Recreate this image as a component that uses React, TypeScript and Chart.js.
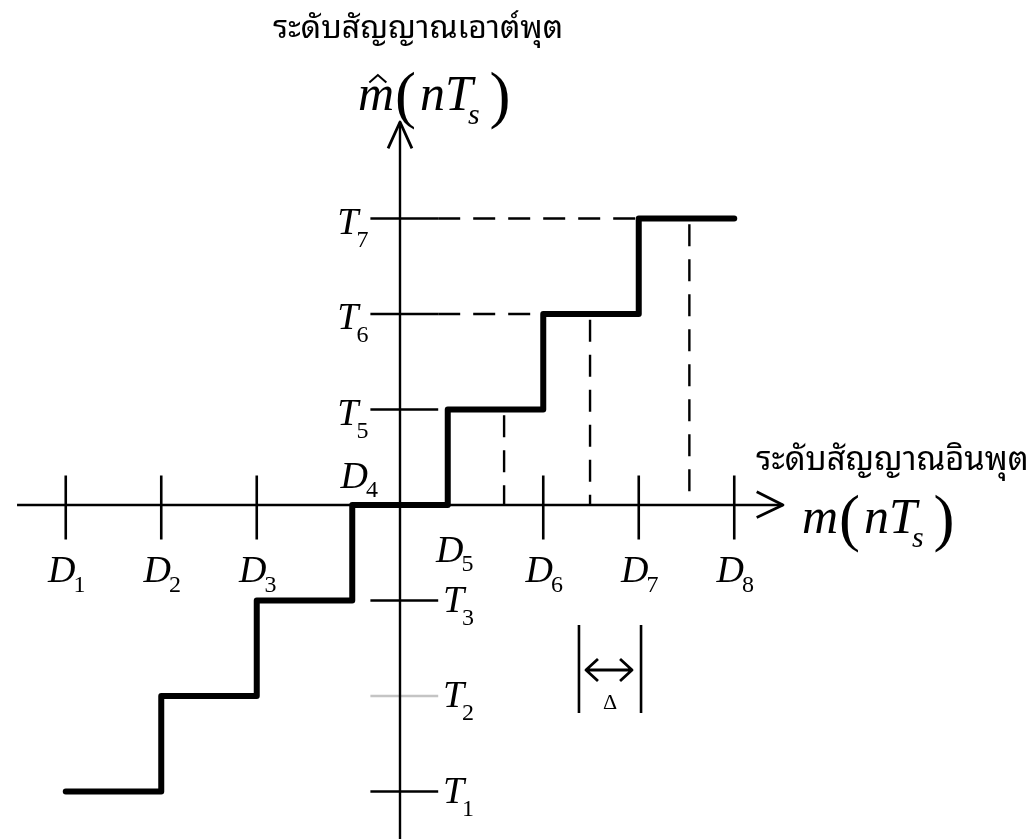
import React, { useEffect, useRef } from "react";
import { Chart, registerables } from "chart.js";

Chart.register(...registerables);

// Decision levels D1..D8 on the input axis (in units of the step size Δ)
const decisionNames = ["1", "2", "3", "4", "5", "6", "7", "8"];
const decisionLevels = [-3.5, -2.5, -1.5, -0.5, 0.5, 1.5, 2.5, 3.5];
// Decision levels that carry a tick mark on the input axis
const tickedDecisions = [0, 1, 2, 5, 6, 7];

// Output (reconstruction) levels T1..T7; the zero level has no label
const outputNames = ["1", "2", "3", "", "5", "6", "7"];
const outputLevels = [-3, -2, -1, 0, 1, 2, 3];
// Output levels that carry a tick mark on the output axis (T2 is drawn faded)
const tickedOutputs = [0, 1, 2, 4, 5, 6];
const fadedOutputs = [1];

// Input samples projected down from the upper steps (dashed guides)
const sampleInputs = [1.09, 1.99, 3.03];
const sampleOutputs = [1, 2, 3];
// Output levels projected across from the output axis (dashed guides)
const projectedOutputs = [5, 6];

// Extent of the drawn axes
const inputAxisRange = [-4.01, 4.01];
const outputAxisRange = [-3.6, 4.01];

// Page geometry
const W = 1033;
const H = 839;
const UNIT = 95.5;
const ORIGIN_X = 400;
const ORIGIN_Y = 505;

const SERIF = '"Liberation Serif", "Times New Roman", serif';
const THAI = '"Noto Sans Thai Looped", "Noto Sans Thai", "Noto Sans", "DejaVu Sans", sans-serif';

type Pt = { x: number; y: number };

function seg(points: Pt[], width: number, color = "#000", dash: number[] = []) {
  return {
    data: points,
    showLine: true,
    borderColor: color,
    borderWidth: width,
    borderDash: dash,
    borderCapStyle: "butt" as const,
    borderJoinStyle: "miter" as const,
    pointRadius: 0,
    fill: false,
    tension: 0,
    clip: false as const,
  };
}

function buildDatasets() {
  const sets: any[] = [];

  // quantizer staircase
  const stairs: Pt[] = [];
  outputLevels.forEach((t, i) => {
    stairs.push({ x: decisionLevels[i], y: t });
    stairs.push({ x: decisionLevels[i + 1], y: t });
  });
  const stairSet = seg(stairs, 6);
  stairSet.borderCapStyle = "round" as any;
  stairSet.borderJoinStyle = "round" as any;
  sets.push(stairSet);

  // axes
  sets.push(seg([{ x: inputAxisRange[0], y: 0 }, { x: inputAxisRange[1], y: 0 }], 2.4));
  sets.push(seg([{ x: 0, y: outputAxisRange[0] }, { x: 0, y: outputAxisRange[1] }], 2.4));

  // arrow heads
  const hx = inputAxisRange[1];
  const hxSet = seg([{ x: hx - 0.275, y: 0.14 }, { x: hx, y: 0 }, { x: hx - 0.275, y: -0.13 }], 2.8);
  hxSet.borderJoinStyle = "round" as any;
  sets.push(hxSet);
  const hy = outputAxisRange[1];
  const hySet = seg([{ x: -0.125, y: hy - 0.275 }, { x: 0, y: hy }, { x: 0.125, y: hy - 0.275 }], 2.8);
  hySet.borderJoinStyle = "round" as any;
  sets.push(hySet);

  // input-axis ticks
  tickedDecisions.forEach((i) => {
    const d = decisionLevels[i];
    sets.push(seg([{ x: d, y: 0.31 }, { x: d, y: -0.36 }], 2.6));
  });

  // output-axis ticks
  tickedOutputs.forEach((i) => {
    const t = outputLevels[i];
    const color = fadedOutputs.includes(i) ? "#c4c4c4" : "#000";
    sets.push(seg([{ x: -0.31, y: t }, { x: 0.4, y: t }], 2.6, color));
  });

  // dashed horizontal guides from the axis ticks to the steps
  projectedOutputs.forEach((i) => {
    const t = outputLevels[i];
    sets.push(seg([{ x: 0.4, y: t }, { x: decisionLevels[i], y: t }], 2.4, "#000", [22, 13]));
  });

  // dashed vertical guides from the steps to the input axis
  sampleInputs.forEach((s, k) => {
    sets.push(seg([{ x: s, y: sampleOutputs[k] - 0.06 }, { x: s, y: 0 }], 2.4, "#000", [22, 13]));
  });

  return sets;
}

// draw a letter with a numeric subscript
function drawSub(
  ctx: CanvasRenderingContext2D,
  main: string,
  sub: string,
  x: number,
  y: number,
  align: "left" | "center" | "right",
  mainSize = 38,
  subSize = 24,
  drop = 11,
  kern = -2
) {
  const mainFont = `italic ${mainSize}px ${SERIF}`;
  const subFont = `${subSize}px ${SERIF}`;
  ctx.font = mainFont;
  const wm = ctx.measureText(main).width;
  ctx.font = subFont;
  const ws = ctx.measureText(sub).width;
  const total = wm + kern + ws;
  let x0 = x;
  if (align === "center") x0 = x - total / 2;
  if (align === "right") x0 = x - total;
  ctx.textAlign = "left";
  ctx.textBaseline = "alphabetic";
  ctx.font = mainFont;
  ctx.fillText(main, x0, y);
  ctx.font = subFont;
  ctx.fillText(sub, x0 + wm + kern, y + drop);
}

// draw m(nT_s) style expressions, optionally with a hat over the m
function drawSignal(ctx: CanvasRenderingContext2D, x: number, y: number, size: number, hat: boolean) {
  const it = `italic ${size}px ${SERIF}`;
  const paren = `${Math.round(size * 1.25)}px ${SERIF}`;
  const subF = `italic ${Math.round(size * 0.6)}px ${SERIF}`;
  ctx.textAlign = "left";
  ctx.textBaseline = "alphabetic";
  let cx = x;
  ctx.font = it;
  ctx.fillText("m", cx, y);
  const wm = ctx.measureText("m").width;
  if (hat) {
    ctx.save();
    ctx.lineWidth = 2;
    ctx.beginPath();
    const hx = cx + wm * 0.55;
    ctx.moveTo(hx - size * 0.17, y - size * 0.55);
    ctx.lineTo(hx, y - size * 0.7);
    ctx.lineTo(hx + size * 0.17, y - size * 0.55);
    ctx.stroke();
    ctx.restore();
  }
  cx += wm + size * 0.02;
  ctx.font = paren;
  ctx.fillText("(", cx, y + size * 0.12);
  cx += ctx.measureText("(").width + size * 0.08;
  ctx.font = it;
  ctx.fillText("n", cx, y);
  cx += ctx.measureText("n").width;
  ctx.fillText("T", cx, y);
  cx += ctx.measureText("T").width - size * 0.1;
  ctx.font = subF;
  ctx.fillText("s", cx, y + size * 0.28);
  cx += ctx.measureText("s").width + size * 0.2;
  ctx.font = paren;
  ctx.fillText(")", cx, y + size * 0.12);
}

function fitThai(ctx: CanvasRenderingContext2D, text: string, width: number) {
  ctx.font = `26px ${THAI}`;
  const w = ctx.measureText(text).width;
  const size = Math.max(16, Math.min(40, (26 * width) / w));
  return `${size.toFixed(1)}px ${THAI}`;
}

const labelPlugin = {
  id: "quantizerLabels",
  afterDraw(chart: any) {
    const ctx: CanvasRenderingContext2D = chart.ctx;
    const xs = chart.scales.x;
    const ys = chart.scales.y;
    const px = (v: number) => xs.getPixelForValue(v);
    const py = (v: number) => ys.getPixelForValue(v);
    ctx.save();
    ctx.fillStyle = "#000";
    ctx.strokeStyle = "#000";

    // axis titles
    const outTitle = "ระดับสัญญาณเอาต์พุต";
    ctx.font = fitThai(ctx, outTitle, 290);
    ctx.textAlign = "center";
    ctx.textBaseline = "alphabetic";
    ctx.fillText(outTitle, 418, 38);
    drawSignal(ctx, 358, 110, 50, true);

    const inTitle = "ระดับสัญญาณอินพุต";
    ctx.font = fitThai(ctx, inTitle, 273);
    ctx.textAlign = "left";
    ctx.fillText(inTitle, 756, 470);
    drawSignal(ctx, 802, 533, 50, false);

    // decision level labels
    decisionLevels.forEach((d, i) => {
      const name = decisionNames[i];
      if (i === 3) {
        drawSub(ctx, "D", name, px(d) + 7, 488, "center", 38, 24, 9);
      } else if (i === 4) {
        drawSub(ctx, "D", name, px(d) + 7, 562, "center", 38, 24, 9);
      } else {
        drawSub(ctx, "D", name, px(d) + 1, 582, "center", 38, 24, 10);
      }
    });

    // output level labels
    outputLevels.forEach((t, i) => {
      const name = outputNames[i];
      if (!name) return;
      if (t > 0) {
        drawSub(ctx, "T", name, px(-0.33), py(t) + 15, "right", 38, 24, 13);
      } else {
        drawSub(ctx, "T", name, px(0.45), py(t) + 11, "left", 38, 24, 13);
      }
    });

    // step-size marker |↔| with Δ
    const bl = px(1.874);
    const br = px(2.524);
    const top = py(-1.257);
    const bot = py(-2.178);
    ctx.lineWidth = 2.6;
    ctx.beginPath();
    ctx.moveTo(bl, top);
    ctx.lineTo(bl, bot);
    ctx.moveTo(br, top);
    ctx.lineTo(br, bot);
    ctx.stroke();
    const ay = py(-1.728);
    const a0 = bl + 7;
    const a1 = br - 9;
    ctx.lineWidth = 2.8;
    ctx.lineJoin = "round";
    ctx.beginPath();
    ctx.moveTo(a0, ay);
    ctx.lineTo(a1, ay);
    ctx.moveTo(a0 + 12, ay - 11);
    ctx.lineTo(a0, ay);
    ctx.lineTo(a0 + 12, ay + 11);
    ctx.moveTo(a1 - 12, ay - 11);
    ctx.lineTo(a1, ay);
    ctx.lineTo(a1 - 12, ay + 11);
    ctx.stroke();
    ctx.font = `22px ${SERIF}`;
    ctx.textAlign = "center";
    ctx.fillText("Δ", (bl + br) / 2, 709);

    ctx.restore();
  },
};

export default function App() {
  const ref = useRef<HTMLCanvasElement | null>(null);

  useEffect(() => {
    if (!ref.current) return;
    const chart = new Chart(ref.current, {
      type: "scatter",
      data: { datasets: buildDatasets() },
      options: {
        animation: false,
        responsive: false,
        events: [],
        layout: { padding: 0 },
        plugins: {
          legend: { display: false },
          tooltip: { enabled: false },
          title: { display: false },
        },
        scales: {
          x: {
            type: "linear",
            display: false,
            min: -ORIGIN_X / UNIT,
            max: (W - ORIGIN_X) / UNIT,
          },
          y: {
            type: "linear",
            display: false,
            min: -(H - ORIGIN_Y) / UNIT,
            max: ORIGIN_Y / UNIT,
          },
        },
      },
      plugins: [labelPlugin],
    } as any);
    return () => chart.destroy();
  }, []);

  return (
    <div style={{ position: "absolute", left: 0, top: 0, width: W, height: H, background: "#fff" }}>
      <canvas ref={ref} width={W} height={H} style={{ display: "block" }} />
    </div>
  );
}
